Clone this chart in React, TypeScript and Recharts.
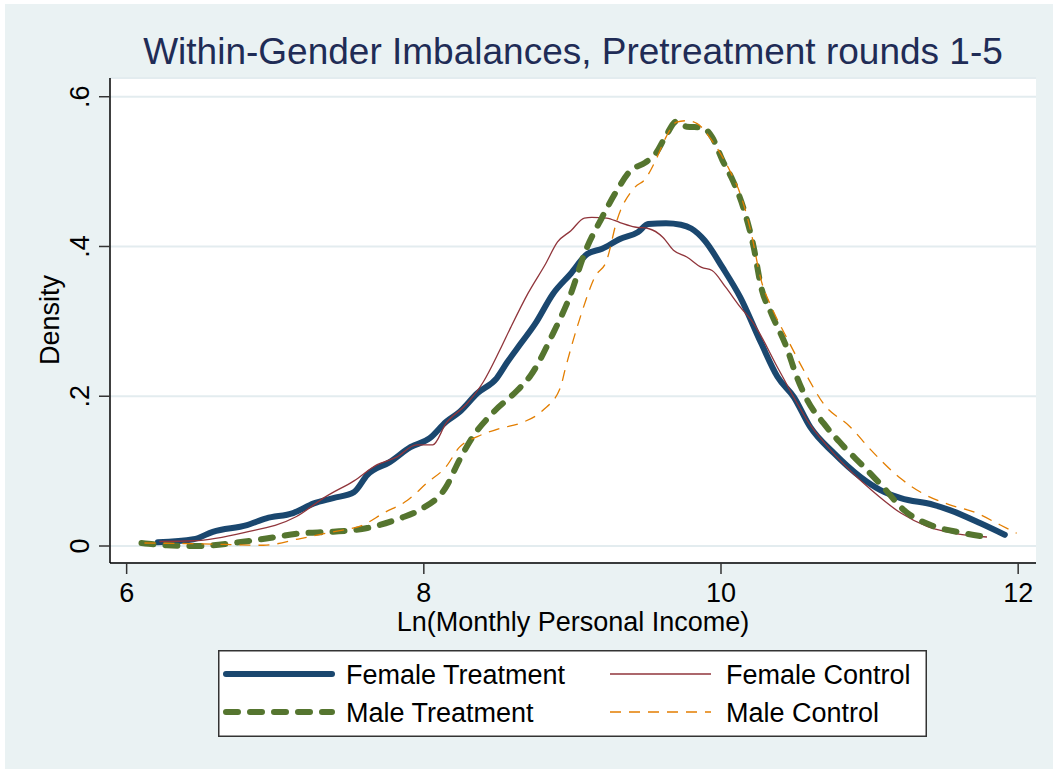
import React from 'react'
import { CartesianGrid, Line, LineChart, XAxis, YAxis } from 'recharts'

const FONT = '"Liberation Sans", Arial, sans-serif'

// [ln income, density]
const femaleTreatment: [number, number][] = [
  [6.21, 0.005], [6.45, 0.009], [6.58, 0.019], [6.81, 0.028], [6.94, 0.037],
  [7.12, 0.044], [7.26, 0.057], [7.39, 0.064], [7.53, 0.072], [7.62, 0.095],
  [7.77, 0.112], [7.91, 0.132], [8.04, 0.144], [8.15, 0.166], [8.24, 0.179],
  [8.36, 0.204], [8.49, 0.224], [8.56, 0.245], [8.655, 0.271], [8.75, 0.297],
  [8.87, 0.337], [8.99, 0.364], [9.1, 0.39], [9.2, 0.397], [9.32, 0.41],
  [9.44, 0.419], [9.51, 0.43], [9.63, 0.431], [9.73, 0.429], [9.8, 0.424],
  [9.89, 0.408], [10.01, 0.372], [10.13, 0.332], [10.27, 0.271], [10.38, 0.226],
  [10.49, 0.199], [10.6, 0.159], [10.76, 0.124], [10.94, 0.092], [11.07, 0.075],
  [11.21, 0.064], [11.43, 0.055], [11.54, 0.048], [11.75, 0.03], [11.91, 0.015],
]

const femaleControl: [number, number][] = [
  [6.22, 0.006], [6.45, 0.007], [6.79, 0.018], [7.14, 0.039], [7.34, 0.066],
  [7.53, 0.087], [7.68, 0.108], [7.82, 0.119], [7.95, 0.135], [8.06, 0.135],
  [8.15, 0.164], [8.29, 0.19], [8.4, 0.219], [8.51, 0.261], [8.585, 0.292],
  [8.7, 0.337], [8.82, 0.377], [8.9, 0.406], [8.99, 0.421], [9.08, 0.438],
  [9.13, 0.439], [9.23, 0.438], [9.32, 0.432], [9.42, 0.426], [9.51, 0.424],
  [9.61, 0.412], [9.68, 0.395], [9.77, 0.386], [9.87, 0.372], [9.94, 0.368],
  [10.03, 0.346], [10.13, 0.319], [10.22, 0.297], [10.39, 0.235], [10.6, 0.162],
  [10.78, 0.119], [11.01, 0.075], [11.21, 0.044], [11.39, 0.026], [11.57, 0.017],
  [11.79, 0.012],
]

const maleTreatment: [number, number][] = [
  [6.1, 0.004], [6.27, 0.001], [6.49, 0.0], [6.72, 0.004], [6.94, 0.01],
  [7.17, 0.017], [7.39, 0.019], [7.62, 0.024], [7.84, 0.037], [7.97, 0.048],
  [8.15, 0.079], [8.24, 0.115], [8.33, 0.146], [8.47, 0.179], [8.63, 0.208],
  [8.72, 0.228], [8.87, 0.284], [8.99, 0.337], [9.08, 0.39], [9.2, 0.439],
  [9.3, 0.475], [9.39, 0.501], [9.49, 0.512], [9.56, 0.524], [9.63, 0.548],
  [9.7, 0.567], [9.77, 0.56], [9.87, 0.559], [9.94, 0.546], [10.01, 0.515],
  [10.08, 0.488], [10.15, 0.452], [10.22, 0.399], [10.27, 0.346], [10.34, 0.31],
  [10.44, 0.266], [10.51, 0.226], [10.58, 0.195], [10.69, 0.164], [10.83, 0.132],
  [10.96, 0.106], [11.09, 0.079], [11.23, 0.048], [11.41, 0.028], [11.61, 0.018],
  [11.79, 0.012],
]

const maleControl: [number, number][] = [
  [6.12, 0.004], [6.49, 0.003], [6.92, 0.001], [7.17, 0.01], [7.39, 0.019],
  [7.59, 0.028], [7.73, 0.044], [7.89, 0.061], [8.02, 0.084], [8.15, 0.106],
  [8.24, 0.132], [8.36, 0.146], [8.51, 0.157], [8.65, 0.164], [8.8, 0.181],
  [8.92, 0.212], [8.95, 0.235], [9.06, 0.31], [9.15, 0.359], [9.23, 0.381],
  [9.3, 0.435], [9.42, 0.479], [9.49, 0.49], [9.56, 0.515], [9.63, 0.546],
  [9.7, 0.566], [9.77, 0.568], [9.84, 0.564], [9.94, 0.541], [10.06, 0.501],
  [10.13, 0.47], [10.2, 0.421], [10.27, 0.355], [10.34, 0.319], [10.44, 0.279],
  [10.57, 0.23], [10.69, 0.19], [10.87, 0.159], [11.01, 0.128], [11.21, 0.09],
  [11.36, 0.07], [11.54, 0.055], [11.72, 0.044], [11.88, 0.028], [11.99, 0.017],
]

const xTicks = [6, 8, 10, 12]
const yTicks = [0, 0.2, 0.4, 0.6]
const yTickLabels = ['0', '.2', '.4', '.6']

const toRows = (pts: [number, number][]) => pts.map(([x, d]) => ({ x, d }))

const series = [
  { name: 'Female Treatment', pts: femaleTreatment, color: '#1A476F', width: 6, dash: undefined },
  { name: 'Female Control', pts: femaleControl, color: '#90353B', width: 1.3, dash: undefined },
  { name: 'Male Treatment', pts: maleTreatment, color: '#55752F', width: 6, dash: '12 12' },
  { name: 'Male Control', pts: maleControl, color: '#E37E00', width: 1.3, dash: '11 8' },
]

function YTick(props: any) {
  const { y, payload } = props
  const i = yTicks.indexOf(payload.value)
  return (
    <text
      transform={`translate(89, ${y}) rotate(-90)`}
      textAnchor="middle"
      fontSize={27}
      fontFamily={FONT}
      fill="#000"
    >
      {i >= 0 ? yTickLabels[i] : payload.value}
    </text>
  )
}

function XTick(props: any) {
  const { x, y, payload } = props
  return (
    <text x={x} y={y + 26} textAnchor="middle" fontSize={27} fontFamily={FONT} fill="#000">
      {payload.value}
    </text>
  )
}

function LegendBox() {
  const rows = [
    [series[0], series[1]],
    [series[2], series[3]],
  ]
  const cols = [
    { x1: 8, x2: 114, tx: 128 },
    { x1: 392, x2: 493, tx: 508 },
  ]
  return (
    <svg
      width={709}
      height={87}
      style={{ position: 'absolute', left: 218, top: 650 }}
    >
      <rect x={0.75} y={0.75} width={707.5} height={85.5} fill="#fff" stroke="#333" strokeWidth={1.5} />
      {rows.map((row, r) =>
        row.map((s, c) => (
          <g key={s.name}>
            <line
              x1={cols[c].x1}
              x2={cols[c].x2}
              y1={24 + r * 38}
              y2={24 + r * 38}
              stroke={s.color}
              strokeWidth={s.width}
              strokeDasharray={s.dash}
              strokeLinecap={s.width > 2 ? 'round' : 'butt'}
            />
            <text x={cols[c].tx} y={34 + r * 38} fontSize={27} fontFamily={FONT} fill="#000">
              {s.name}
            </text>
          </g>
        ))
      )}
    </svg>
  )
}

export default function App() {
  return (
    <div style={{ position: 'relative', width: 1053, height: 769, background: '#fff' }}>
      <style>{'body{margin:0}'}</style>
      <div
        style={{ position: 'absolute', left: 5, top: 4, right: 0, bottom: 0, background: '#EAF2F3' }}
      />
      <div style={{ position: 'absolute', left: 0, top: 0 }}>
        <LineChart
          width={1053}
          height={769}
          margin={{ top: 78, right: 17, bottom: 166, left: 0 }}
        >
          <CartesianGrid
            horizontal
            vertical={false}
            fill="#ffffff"
            fillOpacity={1}
            stroke="#E3ECEF"
            strokeWidth={2}
          />
          <XAxis
            type="number"
            dataKey="x"
            domain={[5.888, 12.12]}
            ticks={xTicks}
            allowDataOverflow
            height={40}
            tickSize={11}
            tick={<XTick />}
            axisLine={{ stroke: '#000', strokeWidth: 1.5 }}
            tickLine={{ stroke: '#333', strokeWidth: 1.5 }}
          />
          <YAxis
            type="number"
            dataKey="d"
            domain={[-0.0227, 0.625]}
            ticks={yTicks}
            allowDataOverflow
            width={110}
            tickSize={11}
            tick={<YTick />}
            axisLine={{ stroke: '#000', strokeWidth: 1.5 }}
            tickLine={{ stroke: '#333', strokeWidth: 1.5 }}
          />
          {series.map((s) => (
            <Line
              key={s.name}
              data={toRows(s.pts)}
              dataKey="d"
              name={s.name}
              type="monotone"
              stroke={s.color}
              strokeWidth={s.width}
              strokeDasharray={s.dash}
              strokeLinecap={s.width > 2 ? 'round' : 'butt'}
              strokeLinejoin="round"
              dot={false}
              activeDot={false}
              isAnimationActive={false}
            />
          ))}
        </LineChart>
      </div>
      <svg
        width={1053}
        height={769}
        style={{ position: 'absolute', left: 0, top: 0, pointerEvents: 'none' }}
      >
        <text x={573} y={64} textAnchor="middle" fontSize={37} fontFamily={FONT} fill="#1F2C56">
          Within-Gender Imbalances, Pretreatment rounds 1-5
        </text>
        <text x={573} y={631} textAnchor="middle" fontSize={27} fontFamily={FONT} fill="#000">
          Ln(Monthly Personal Income)
        </text>
        <text
          transform="translate(59, 320) rotate(-90)"
          textAnchor="middle"
          fontSize={27}
          fontFamily={FONT}
          fill="#000"
        >
          Density
        </text>
      </svg>
      <LegendBox />
    </div>
  )
}
